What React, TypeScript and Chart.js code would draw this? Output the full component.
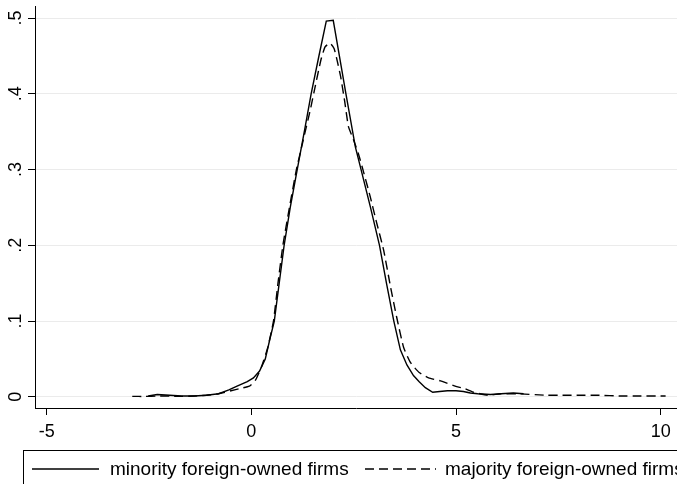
import React, { useEffect, useRef } from "react";
import { Chart, registerables } from "chart.js";

Chart.register(...registerables);

const xTicks = [-5, 0, 5, 10];
const xTickLabels = ["-5", "0", "5", "10"];
const yTicks = [0, 0.1, 0.2, 0.3, 0.4, 0.5];
const yTickLabels = ["0", ".1", ".2", ".3", ".4", ".5"];

const minorityX = [-2.52, -2.3, -2.0, -1.7, -1.4, -1.1, -0.8, -0.55, -0.35, -0.1, 0.05, 0.2, 0.34, 0.46, 0.56, 0.68, 0.8, 0.95, 1.12, 1.3, 1.46, 1.65, 1.83, 2.0, 2.15, 2.31, 2.54, 2.68, 2.91, 3.13, 3.3, 3.48, 3.64, 3.8, 3.96, 4.1, 4.25, 4.43, 4.6, 4.79, 5.0, 5.18, 5.35, 5.53, 5.84, 6.1, 6.4, 6.65];
const minorityY = [0.001, 0.003, 0.002, 0.001, 0.001, 0.002, 0.004, 0.009, 0.014, 0.02, 0.025, 0.034, 0.05, 0.078, 0.1, 0.15, 0.2, 0.25, 0.3, 0.352, 0.4, 0.45, 0.496, 0.497, 0.45, 0.4, 0.33, 0.3, 0.25, 0.2, 0.15, 0.1, 0.062, 0.042, 0.028, 0.02, 0.012, 0.006, 0.007, 0.008, 0.008, 0.007, 0.005, 0.004, 0.003, 0.004, 0.005, 0.004];

const majorityX = [-2.91, -2.6, -2.3, -2.0, -1.7, -1.4, -1.1, -0.8, -0.5, -0.27, -0.05, 0.1, 0.25, 0.4, 0.54, 0.65, 0.77, 0.93, 1.1, 1.25, 1.44, 1.56, 1.7, 1.8, 1.92, 2.02, 2.1, 2.18, 2.28, 2.37, 2.49, 2.62, 2.75, 2.9, 3.05, 3.23, 3.4, 3.55, 3.72, 3.89, 4.1, 4.33, 4.62, 5.04, 5.2, 5.43, 5.77, 6.09, 6.5, 7.24, 7.6, 8.04, 8.5, 9.0, 9.5, 10.12];
const majorityY = [0.0005, 0.0005, 0.001, 0.001, 0.0005, 0.001, 0.002, 0.004, 0.008, 0.011, 0.014, 0.022, 0.04, 0.065, 0.1, 0.15, 0.2, 0.25, 0.3, 0.335, 0.379, 0.41, 0.445, 0.462, 0.467, 0.46, 0.443, 0.423, 0.39, 0.357, 0.34, 0.32, 0.295, 0.265, 0.232, 0.194, 0.145, 0.105, 0.065, 0.045, 0.032, 0.025, 0.021, 0.013, 0.011, 0.006, 0.002, 0.004, 0.004, 0.002, 0.002, 0.002, 0.002, 0.001, 0.001, 0.001];

const legendLabels = ["minority foreign-owned firms", "majority foreign-owned firms"];

const FONT = "'Liberation Sans', Arial, Helvetica, sans-serif";
const DASH = [9, 5];

const stataLegend = {
  id: "stataLegend",
  afterDraw(chart: any) {
    const ctx = chart.ctx as CanvasRenderingContext2D;
    ctx.save();
    ctx.strokeStyle = "#000";
    ctx.lineWidth = 1;
    ctx.setLineDash([]);
    ctx.strokeRect(23.5, 450.5, 720, 100);
    const ly = 469;
    ctx.lineWidth = 1.4;
    ctx.beginPath();
    ctx.moveTo(32, ly);
    ctx.lineTo(99, ly);
    ctx.stroke();
    ctx.setLineDash(DASH);
    ctx.beginPath();
    ctx.moveTo(365, ly);
    ctx.lineTo(436, ly);
    ctx.stroke();
    ctx.setLineDash([]);
    ctx.fillStyle = "#000";
    ctx.font = `19px ${FONT}`;
    ctx.textBaseline = "middle";
    ctx.textAlign = "left";
    ctx.fillText(legendLabels[0], 110, ly + 1);
    ctx.fillText(legendLabels[1], 445, ly + 1);
    ctx.restore();
  },
};

export default function App() {
  const ref = useRef<HTMLCanvasElement | null>(null);

  useEffect(() => {
    document.body.style.margin = "0";
    const canvas = ref.current;
    if (!canvas) return;
    const chart = new Chart(canvas, {
      type: "line",
      data: {
        datasets: [
          {
            label: legendLabels[0],
            data: minorityX.map((x, i) => ({ x, y: minorityY[i] })),
            borderColor: "#000",
            borderWidth: 1.4,
            pointRadius: 0,
            tension: 0,
            fill: false,
          },
          {
            label: legendLabels[1],
            data: majorityX.map((x, i) => ({ x, y: majorityY[i] })),
            borderColor: "#000",
            borderWidth: 1.4,
            borderDash: DASH,
            pointRadius: 0,
            tension: 0.15,
            fill: false,
          },
        ],
      },
      options: {
        animation: false,
        responsive: false,
        maintainAspectRatio: false,
        devicePixelRatio: 1,
        layout: { padding: { top: 6, left: 0, right: 0, bottom: 0 } },
        plugins: {
          legend: { display: false },
          tooltip: { enabled: false },
        },
        scales: {
          x: {
            type: "linear",
            min: -5.286,
            max: 10.398,
            afterBuildTicks: (scale: any) => {
              scale.ticks = xTicks.map((v) => ({ value: v }));
            },
            afterFit: (scale: any) => {
              scale.height = 76;
              scale.paddingLeft = 0;
              scale.paddingRight = 0;
            },
            ticks: {
              callback: (_v: any, i: number) => xTickLabels[i],
              color: "#000",
              font: { family: FONT, size: 18 },
              padding: 6,
              maxRotation: 0,
              minRotation: 0,
              autoSkip: false,
            },
            grid: {
              drawOnChartArea: false,
              drawTicks: true,
              tickLength: 7,
              tickColor: "#000",
              tickWidth: 1,
            },
            border: { display: true, color: "#000", width: 1 },
          },
          y: {
            type: "linear",
            min: -0.0148,
            max: 0.516,
            afterBuildTicks: (scale: any) => {
              scale.ticks = yTicks.map((v) => ({ value: v }));
            },
            afterFit: (scale: any) => {
              scale.width = 35;
              scale.paddingTop = 0;
              scale.paddingBottom = 0;
            },
            ticks: {
              callback: (_v: any, i: number) => yTickLabels[i],
              color: "#000",
              font: { family: FONT, size: 18 },
              padding: 4,
              minRotation: 90,
              maxRotation: 90,
              crossAlign: "center",
              autoSkip: false,
            },
            grid: {
              color: "#ebebeb",
              lineWidth: 1,
              drawTicks: true,
              tickLength: 7,
              tickColor: "#000",
              tickWidth: 1,
            },
            border: { display: true, color: "#000", width: 1 },
          },
        },
      },
      plugins: [stataLegend],
    });
    return () => chart.destroy();
  }, []);

  return (
    <div style={{ position: "absolute", left: 0, top: 0, width: 677, height: 484, background: "#fff", overflow: "hidden" }}>
      <canvas ref={ref} width={677} height={484} style={{ width: 677, height: 484, display: "block" }} />
    </div>
  );
}
